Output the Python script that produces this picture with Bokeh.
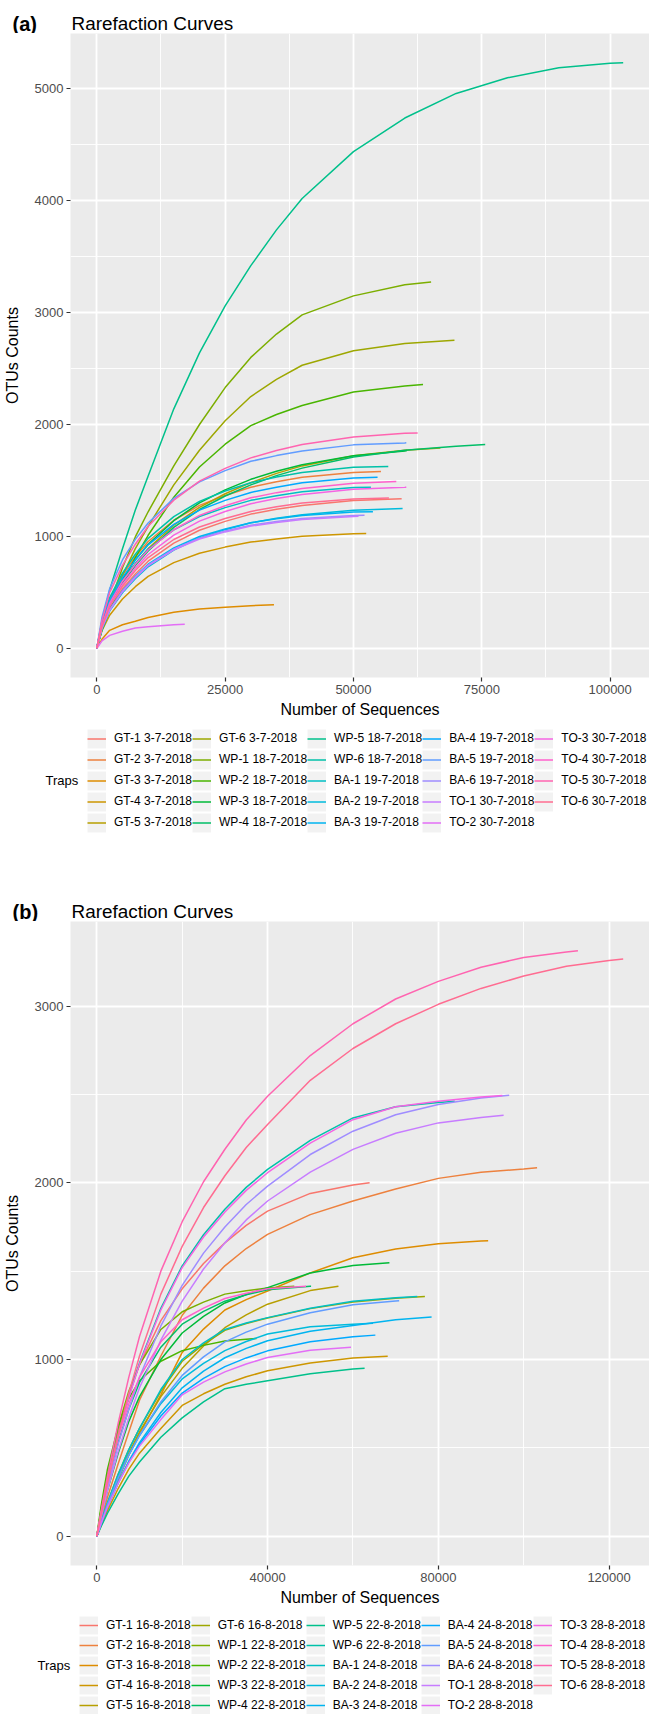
import math
from bokeh.plotting import figure
from bokeh.models import (Range1d, FixedTicker, Legend, LegendItem, Label,
                          BasicTickFormatter)
from bokeh.layouts import column
from bokeh.embed import file_html
from bokeh.resources import INLINE

# ---------------- data: panel (a) ----------------
NAMES_A = ["GT-1 3-7-2018", "GT-2 3-7-2018", "GT-3 3-7-2018", "GT-4 3-7-2018",
           "GT-5 3-7-2018", "GT-6 3-7-2018", "WP-1 18-7-2018", "WP-2 18-7-2018",
           "WP-3 18-7-2018", "WP-4 18-7-2018", "WP-5 18-7-2018", "WP-6 18-7-2018",
           "BA-1 19-7-2018", "BA-2 19-7-2018", "BA-3 19-7-2018", "BA-4 19-7-2018",
           "BA-5 19-7-2018", "BA-6 19-7-2018", "TO-1 30-7-2018", "TO-2 30-7-2018",
           "TO-3 30-7-2018", "TO-4 30-7-2018", "TO-5 30-7-2018", "TO-6 30-7-2018"]
SEQ_GRID_A = [0, 1000, 2500, 5000, 7500, 10000, 15000, 20000, 25000, 30000, 35000,
              40000, 50000, 60000, 70000, 80000, 90000, 100000]
END_SEQ_A = [59380, 55350, 34510, 52480, 66930, 69670, 65120, 63550, 60420, 75660,
             102540, 56780, 53400, 59570, 53790, 54690, 60290, 52150, 50980, 17130,
             60290, 58340, 62500, 56900]
END_OTU_A = [1337, 1580, 389, 1025, 1791, 2754, 3274, 2358, 1767, 1821,
             5234, 1625, 1440, 1250, 1221, 1529, 1836, 1188, 1179, 214,
             1440, 1491, 1925, 1342]
A_GT1 = [0, 179, 357, 531, 664, 778, 939, 1055, 1134, 1199, 1242, 1277, 1320]
A_GT2 = [0, 228, 439, 653, 817, 954, 1144, 1277, 1366, 1439, 1488, 1528, 1572]
A_GT3 = [0, 80, 160, 210, 242, 275, 322, 350, 367, 380]
A_GT4 = [0, 158, 295, 440, 550, 642, 765, 849, 904, 949, 977, 1000, 1023]
A_GT5 = [0, 190, 390, 590, 750, 890, 1100, 1260, 1381, 1480, 1563, 1630, 1720, 1770]
A_GT6 = [0, 170, 370, 650, 890, 1090, 1460, 1770, 2034, 2250, 2404, 2530, 2660, 2725]
A_WP1 = [0, 190, 400, 720, 995, 1220, 1630, 2000, 2330, 2600, 2809, 2980, 3150, 3250]
A_WP2 = [0, 160, 340, 590, 810, 1010, 1350, 1620, 1824, 1990, 2089, 2170, 2290, 2345]
A_WP3 = [0, 200, 410, 620, 790, 930, 1140, 1300, 1416, 1510, 1582, 1640, 1720, 1764]
A_WP4 = [0, 180, 380, 580, 740, 870, 1080, 1240, 1361, 1460, 1543, 1610, 1710, 1770,
         1805]
A_WP5 = [0, 240, 520, 890, 1235, 1540, 2140, 2640, 3060, 3420, 3740, 4020, 4440, 4740,
         4960, 5100, 5190, 5230]
A_WP6 = [0, 234, 452, 671, 840, 982, 1177, 1313, 1405, 1480, 1530, 1571, 1617]
A_BA1 = [0, 215, 408, 606, 759, 886, 1058, 1178, 1257, 1322, 1364, 1398, 1436]
A_BA2 = [0, 168, 334, 496, 621, 728, 878, 986, 1060, 1121, 1161, 1194, 1234]
A_BA3 = [0, 182, 346, 514, 643, 751, 897, 999, 1066, 1121, 1157, 1186, 1217]
A_BA4 = [0, 220, 425, 631, 790, 924, 1107, 1235, 1322, 1393, 1440, 1479, 1521]
A_BA5 = [0, 275, 532, 789, 973, 1120, 1340, 1487, 1588, 1671, 1722, 1763, 1818, 1835]
A_BA6 = [0, 183, 342, 510, 638, 744, 886, 984, 1048, 1100, 1132, 1159, 1186]
A_TO1 = [0, 182, 340, 506, 633, 738, 880, 976, 1040, 1092, 1124, 1151, 1177]
A_TO2 = [0, 65, 115, 152, 180, 193, 210]
A_TO3 = [0, 193, 384, 572, 716, 838, 1011, 1136, 1222, 1292, 1338, 1375, 1421, 1439]
A_TO4 = [0, 204, 404, 599, 750, 878, 1059, 1187, 1274, 1345, 1391, 1428, 1475]
A_TO5 = [0, 246, 497, 741, 930, 1090, 1324, 1494, 1608, 1702, 1767, 1821, 1888, 1921]
A_TO6 = [0, 193, 373, 554, 694, 811, 972, 1084, 1160, 1223, 1264, 1298, 1335]
OTU_A = [A_GT1, A_GT2, A_GT3, A_GT4, A_GT5, A_GT6, A_WP1, A_WP2, A_WP3, A_WP4,
         A_WP5, A_WP6, A_BA1, A_BA2, A_BA3, A_BA4, A_BA5, A_BA6, A_TO1, A_TO2,
         A_TO3, A_TO4, A_TO5, A_TO6]

# ---------------- data: panel (b) ----------------
NAMES_B = ["GT-1 16-8-2018", "GT-2 16-8-2018", "GT-3 16-8-2018", "GT-4 16-8-2018",
           "GT-5 16-8-2018", "GT-6 16-8-2018", "WP-1 22-8-2018", "WP-2 22-8-2018",
           "WP-3 22-8-2018", "WP-4 22-8-2018", "WP-5 22-8-2018", "WP-6 22-8-2018",
           "BA-1 24-8-2018", "BA-2 24-8-2018", "BA-3 24-8-2018", "BA-4 24-8-2018",
           "BA-5 24-8-2018", "BA-6 24-8-2018", "TO-1 28-8-2018", "TO-2 28-8-2018",
           "TO-3 28-8-2018", "TO-4 28-8-2018", "TO-5 28-8-2018", "TO-6 28-8-2018"]
SEQ_GRID_B = [0, 1000, 2500, 5000, 7500, 10000, 15000, 20000, 25000, 30000, 35000,
              40000, 50000, 60000, 70000, 80000, 90000, 100000, 110000, 120000]
END_SEQ_B = [63900, 103130, 91670, 68140, 56600, 76850, 46260, 37410, 68540, 50190,
             62730, 83840, 75060, 64700, 78420, 65250, 70820, 96600, 95290, 59530,
             95000, 49000, 112700, 123300]
END_OTU_B = [2000, 2085, 1672, 1019, 1414, 1356, 1414, 1119, 1548, 1414,
             951, 2462, 1356, 1205, 1241, 1138, 1332, 2495, 2382, 1070,
             2494, 1414, 3313, 3266]
B_GT1 = [0, 140, 330, 590, 800, 970, 1220, 1400, 1543, 1660, 1759, 1840, 1940, 1988]
B_GT2 = [0, 90, 220, 410, 590, 770, 1020, 1250, 1404, 1530, 1628, 1708, 1820, 1897,
         1965, 2025, 2060, 2078]
B_GT3 = [0, 70, 170, 320, 460, 580, 800, 1040, 1172, 1280, 1339, 1388, 1490, 1576,
         1625, 1655, 1670]
B_GT4 = [0, 60, 145, 270, 380, 470, 610, 740, 806, 860, 902, 936, 980, 1008]
B_GT5 = [0, 70, 170, 330, 470, 590, 790, 950, 1077, 1180, 1253, 1313, 1390]
B_GT6 = [0, 80, 190, 350, 490, 610, 820, 990, 1086, 1165, 1204, 1235, 1288, 1325, 1347]
B_WP1 = [0, 150, 350, 620, 820, 970, 1170, 1270, 1325, 1370, 1389, 1405]
B_WP2 = [0, 170, 380, 620, 780, 880, 990, 1050, 1080, 1105, 1115]
B_WP3 = [0, 110, 260, 470, 650, 790, 1000, 1150, 1244, 1320, 1368, 1407, 1490, 1532]
B_WP4 = [0, 120, 290, 530, 720, 870, 1070, 1200, 1272, 1330, 1366, 1395, 1414]
B_WP5 = [0, 55, 130, 240, 340, 420, 560, 670, 760, 835, 860, 880, 920, 946]
B_WP6 = [0, 130, 310, 570, 790, 980, 1290, 1530, 1706, 1850, 1974, 2076, 2240, 2367,
         2430, 2455]
B_BA1 = [0, 80, 190, 350, 490, 610, 830, 1000, 1094, 1170, 1207, 1237, 1290, 1330, 1350]
B_BA2 = [0, 75, 180, 330, 460, 570, 750, 890, 978, 1050, 1102, 1144, 1185, 1200]
B_BA3 = [0, 70, 165, 305, 425, 530, 700, 840, 934, 1010, 1063, 1106, 1160, 1192, 1225]
B_BA4 = [0, 70, 165, 300, 420, 520, 680, 810, 893, 960, 1009, 1049, 1100, 1129]
B_BA5 = [0, 75, 180, 330, 460, 570, 760, 910, 1015, 1100, 1155, 1200, 1265, 1310, 1331]
B_BA6 = [0, 115, 280, 520, 720, 900, 1190, 1420, 1602, 1750, 1877, 1981, 2160, 2292,
         2385, 2443, 2480]
B_TO1 = [0, 105, 260, 480, 670, 840, 1110, 1330, 1512, 1660, 1790, 1897, 2060, 2189,
         2280, 2339, 2370]
B_TO2 = [0, 70, 165, 300, 415, 510, 660, 800, 872, 930, 975, 1011, 1052]
B_TO3 = [0, 130, 310, 565, 785, 975, 1280, 1520, 1693, 1835, 1957, 2057, 2225, 2357,
         2430, 2461, 2486]
B_TO4 = [0, 130, 310, 560, 750, 900, 1100, 1225, 1291, 1345, 1375, 1400]
B_TO5 = [0, 140, 340, 640, 900, 1130, 1500, 1780, 2006, 2190, 2355, 2490, 2720, 2900,
         3040, 3140, 3220, 3275, 3306]
B_TO6 = [0, 120, 300, 570, 810, 1020, 1370, 1640, 1860, 2040, 2200, 2330, 2580, 2760,
         2900, 3010, 3100, 3170, 3225, 3258]
OTU_B = [B_GT1, B_GT2, B_GT3, B_GT4, B_GT5, B_GT6, B_WP1, B_WP2, B_WP3, B_WP4,
         B_WP5, B_WP6, B_BA1, B_BA2, B_BA3, B_BA4, B_BA5, B_BA6, B_TO1, B_TO2,
         B_TO3, B_TO4, B_TO5, B_TO6]

X_TICKS_A = [0, 25000, 50000, 75000, 100000]
X_MINOR_A = [12500, 37500, 62500, 87500]
Y_TICKS_A = [0, 1000, 2000, 3000, 4000, 5000]
Y_MINOR_A = [500, 1500, 2500, 3500, 4500]
X_TICKS_B = [0, 40000, 80000, 120000]
X_MINOR_B = [20000, 60000, 100000]
Y_TICKS_B = [0, 1000, 2000, 3000]
Y_MINOR_B = [500, 1500, 2500]


def hue_colour(h, c=100.0, l=65.0):
    """ggplot2 hue palette colour (polar Luv -> sRGB)."""
    hr = math.radians(h)
    u, v = c * math.cos(hr), c * math.sin(hr)
    xn, yn, zn = 95.047, 100.0, 108.883
    un = 4 * xn / (xn + 15 * yn + 3 * zn)
    vn = 9 * yn / (xn + 15 * yn + 3 * zn)
    y = yn * ((l + 16) / 116) ** 3
    up = u / (13 * l) + un
    vp = v / (13 * l) + vn
    x = 9.0 * y * up / (4 * vp)
    z = -x / 3 - 5 * y + 3 * y / vp
    x, y, z = x / 100, y / 100, z / 100
    rgb = [3.240479 * x - 1.537150 * y - 0.498535 * z,
           -0.969256 * x + 1.875992 * y + 0.041556 * z,
           0.055648 * x - 0.204043 * y + 1.057311 * z]
    out = []
    for ch in rgb:
        ch = 12.92 * ch if ch <= 0.0031308 else 1.055 * ch ** (1 / 2.4) - 0.055
        out.append(int(round(max(0.0, min(1.0, ch)) * 255)))
    return "#%02x%02x%02x" % tuple(out)


FONT = "Liberation Sans"
COLOURS = [hue_colour(15 + 15 * i) for i in range(24)]
W = 649
HEAD_H = 33


def no_frame_align(f):
    if "frame_align" in f.properties():
        f.frame_align = False


def blank(height):
    f = figure(width=W, height=height, x_range=Range1d(0, W), y_range=Range1d(0, height),
               x_axis_type=None, y_axis_type=None, min_border=0, title=None,
               toolbar_location=None, output_backend="svg")
    f.min_border_left = f.min_border_right = f.min_border_top = f.min_border_bottom = 0
    f.outline_line_color = None
    f.background_fill_color = "white"
    f.border_fill_color = "white"
    no_frame_align(f)
    return f


def make_header(tag):
    h = blank(HEAD_H)
    h.add_layout(Label(x=12, y=HEAD_H - 23, text=tag, text_font=FONT,
                       text_font_size="20px", text_font_style="bold",
                       text_baseline="middle", text_color="black"))
    h.add_layout(Label(x=71, y=HEAD_H - 23, text="Rarefaction Curves", text_font=FONT,
                       text_font_size="18.9px", text_baseline="alphabetic",
                       text_color="black"))
    return h


def make_plot(grid, otus, end_seq, end_otu, xt, xm, yt, ym):
    xmax = max(end_seq)
    ymax = max(end_otu)
    p = figure(width=W, height=644 + 48, output_backend="svg", toolbar_location=None,
               title=None,
               x_range=Range1d(-0.05 * xmax, 1.05 * xmax),
               y_range=Range1d(-0.05 * ymax, 1.05 * ymax),
               min_border_left=70, min_border_right=0, min_border_top=0,
               min_border_bottom=48)
    no_frame_align(p)
    p.background_fill_color = "#EBEBEB"
    p.border_fill_color = "white"
    p.outline_line_color = None

    p.xaxis.ticker = FixedTicker(ticks=xt, minor_ticks=xm)
    p.yaxis.ticker = FixedTicker(ticks=yt, minor_ticks=ym)
    p.xaxis.formatter = BasicTickFormatter(use_scientific=False)
    p.yaxis.formatter = BasicTickFormatter(use_scientific=False)
    for g in (p.xgrid[0], p.ygrid[0]):
        g.grid_line_color = "white"
        g.grid_line_width = 1.8
        g.minor_grid_line_color = "white"
        g.minor_grid_line_width = 0.9
    for ax in (p.xaxis[0], p.yaxis[0]):
        ax.axis_line_color = None
        ax.major_tick_line_color = "#333333"
        ax.major_tick_line_width = 1.2
        ax.major_tick_out = 4
        ax.major_tick_in = 0
        ax.minor_tick_line_color = None
        ax.major_label_text_font = FONT
        ax.major_label_text_font_size = "13px"
        ax.major_label_text_color = "#4D4D4D"
        ax.axis_label_text_font = FONT
        ax.axis_label_text_font_size = "16px"
        ax.axis_label_text_font_style = "normal"
        ax.axis_label_text_color = "black"
    p.xaxis.axis_label = "Number of Sequences"
    p.yaxis.axis_label = "OTUs Counts"
    p.xaxis.major_label_standoff = 3
    p.xaxis.axis_label_standoff = 4
    p.yaxis.major_label_standoff = 3
    p.yaxis.axis_label_standoff = 11

    for ys, ex, ey, col in zip(otus, end_seq, end_otu, COLOURS):
        xs = grid[:len(ys)] + [ex]
        p.line(x=xs, y=ys + [ey], line_color=col, line_width=1.5)
    return p


def make_legend(names, grid, otus, height, top_gap, pitch, key_h, key_x, title_x):
    lf = blank(height)
    # legend proxies: a single point of each series (a one-point line draws nothing)
    key_bg = lf.line(x=grid[:1], y=otus[0][:1], line_color="#F2F2F2", line_width=key_h,
                     line_cap="butt")
    items = []
    for name, ys, col in zip(names, otus, COLOURS):
        r = lf.line(x=grid[:1], y=ys[:1], line_color=col, line_width=1.5)
        items.append(LegendItem(label=name, renderers=[key_bg, r]))
    leg_h = 5 * pitch
    legend = Legend(items=items, location=(key_x, height - top_gap - leg_h),
                    orientation="vertical", nrows=5,
                    glyph_width=19, glyph_height=pitch, label_height=pitch,
                    spacing=0, label_standoff=8, padding=0, margin=0,
                    border_line_color=None, background_fill_alpha=0,
                    label_text_font=FONT, label_text_font_size="12px",
                    label_text_color="black")
    lf.add_layout(legend)
    lf.add_layout(Label(x=title_x, y=height - top_gap - 2.5 * pitch, text="Traps",
                        text_font=FONT, text_font_size="13px", text_baseline="middle",
                        text_color="black"))
    return lf


ha = make_header("(a)")
pa = make_plot(SEQ_GRID_A, OTU_A, END_SEQ_A, END_OTU_A,
               X_TICKS_A, X_MINOR_A, Y_TICKS_A, Y_MINOR_A)
la = make_legend(NAMES_A, SEQ_GRID_A, OTU_A, 888 - HEAD_H - 692, 2.5, 21, 19, 87, 45)
hb = make_header("(b)")
pb = make_plot(SEQ_GRID_B, OTU_B, END_SEQ_B, END_OTU_B,
               X_TICKS_B, X_MINOR_B, Y_TICKS_B, Y_MINOR_B)
lb = make_legend(NAMES_B, SEQ_GRID_B, OTU_B, 826 - HEAD_H - 692, 2, 20, 18, 79, 37)

layout = column(ha, pa, la, hb, pb, lb, spacing=0)
open("out.html", "w").write(file_html(layout, INLINE))
